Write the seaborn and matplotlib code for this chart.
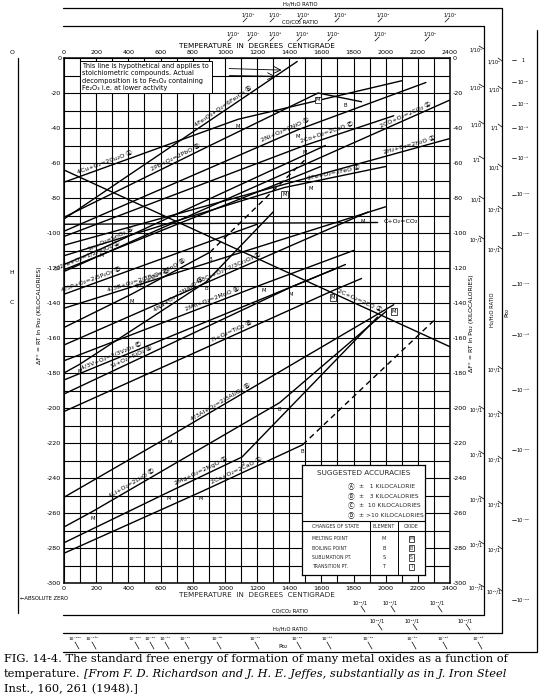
import numpy as np
import pandas as pd
import seaborn as sns
import matplotlib.pyplot as plt
from matplotlib.lines import Line2D

# standard free energy of formation, kcal per mol O2 (T in deg C)
reactions = ['4Fe₃O₄+O₂=6Fe₂O₃', '4Cu+O₂=2Cu₂O', '2Pb+O₂=2PbO', '2Ni+O₂=2NiO', '2Co+O₂=2CoO',
             '2CO+O₂=2CO₂', '2H₂+O₂=2H₂O', '2Fe+O₂=2FeO', 'C+O₂=CO₂', '2C+O₂=2CO',
             'Sn+O₂=SnO₂', '3/2Fe+O₂=1/2Fe₃O₄', '4/5P+O₂=2/5P₂O₅', '4/3B+O₂=2/3B₂O₃', '2Zn+O₂=2ZnO',
             '4Na+O₂=2Na₂O', '4/3Cr+O₂=2/3Cr₂O₃', '2Mn+O₂=2MnO', '4/3V+O₂=2/3V₂O₃', 'Si+O₂=SiO₂',
             'Ti+O₂=TiO₂', '4/3Al+O₂=2/3Al₂O₃', '4Li+O₂=2Li₂O', '2Mg+O₂=2MgO', '2Ca+O₂=2CaO']
accuracy = ['B', 'A', 'B', 'B', 'C', 'A', 'A', 'A', '', 'A', 'B', 'A', 'C', 'C', 'B',
            'B', 'C', 'B', 'C', 'B', 'B', 'B', 'C', 'A', 'A']
temps = [[0, 1450], [0, 1083, 2100], [0, 886, 1580, 1850], [0, 1455, 2250], [0, 1495, 2050],
         [0, 2400], [0, 2400], [0, 1371, 2000], [0, 1950], [0, 2400],
         [0, 232, 1625], [0, 1597], [0, 1200], [0, 450, 2000], [0, 419, 907],
         [0, 98, 883, 1300], [0, 1890], [0, 1244, 1800], [0, 1700], [0, 1410, 1750],
         [0, 1670, 1850], [0, 660, 2050], [0, 180, 1340, 2000], [0, 651, 1107, 1950], [0, 850, 1484]]
dG = [[-92, -2], [-71, -35, -13], [-91, -51, -20, -25], [-99, -41, -14], [-102, -50, -33],
      [-122, -24], [-107, -46], [-113, -74, -62], [-95, -94], [-64, -165],
      [-118, -109, -50], [-121, -62], [-135, -95], [-143, -130, -85], [-154, -135, -111],
      [-180, -175, -128, -88], [-164, -88], [-173, -129, -110], [-184, -120], [-192, -131, -118],
      [-202, -133, -126], [-251, -216, -141], [-268, -259, -197, -145], [-277, -248, -228, -148],
      [-283, -248, -221]]
label_temp = [1000, 260, 700, 1380, 1640, 2130, 2150, 1680, None, 1830,
              300, 150, 175, 470, 610, 720, 1030, 930, 300, 430,
              1050, 980, 430, 860, 1080]

# dashed parts (vapour region)
dash_line = [14, 24]
dash_t = [[907, 1500], [1484, 2300]]
dash_g = [[-111, -58], [-221, -150]]

# changes of state: line index, temperature, letter, boxed (oxide) or not
mark_line = [1, 2, 2, 3, 4, 7, 7, 10, 14, 14, 15, 15, 17, 19, 20, 21, 21, 22, 22, 23, 23, 24, 24, 16]
mark_temp = [1083, 1580, 1750, 1455, 1495, 1371, 1536, 232, 419, 907, 98, 883, 1244, 1410, 1670,
             660, 2050, 180, 1340, 651, 1107, 850, 1484, 1857]
mark_kind = ['M', 'M', 'B', 'M', 'M', 'M', 'M', 'M', 'M', 'B', 'M', 'B', 'M', 'M', 'M',
             'M', 'M', 'M', 'B', 'M', 'B', 'M', 'B', 'M']
mark_boxed = [False, True, False, False, False, True, False, False, False, False, False, False,
              False, False, True, False, True, False, False, False, False, False, False, False]

temp_ticks = list(range(0, 2401, 200))
dg_ticks = list(range(0, -301, -20))

# nomographic scales
h2_top = ['1/10⁸', '1/10⁷', '1/10⁶', '1/10⁵', '1/10⁴', '1/10³']
co_top = ['1/10⁸', '1/10⁷', '1/10⁶', '1/10⁵', '1/10⁴', '1/10³', '1/10²']
co_right = ['1/10³', '1/10²', '1/10', '1/1', '10/1', '10²/1', '10⁶/1', '10⁷/1', '10⁸/1',
            '10⁹/1', '10¹⁰/1']
h2_right = ['1/10²', '1/10', '1/1', '10/1', '10²/1', '10³/1', '10⁵/1', '10⁶/1', '10⁷/1',
            '10⁸/1', '10⁹/1', '10¹⁰/1']
po2_right = ['1', '10⁻²', '10⁻⁴', '10⁻⁶', '10⁻⁸', '10⁻¹⁰', '10⁻¹²', '10⁻¹⁴', '10⁻¹⁶',
             '10⁻¹⁸', '10⁻²⁰', '10⁻²²', '10⁻²⁴']
co_bottom = ['10¹²/1', '10¹³/1', '10¹⁴/1']
h2_bottom = ['10¹²/1', '10¹³/1', '10¹⁴/1']
po2_bottom = ['10⁻²⁰⁰', '10⁻¹⁶⁰', '10⁻¹⁰⁰', '10⁻⁹⁰', '10⁻⁸⁰', '10⁻⁷⁰', '10⁻⁶⁰', '10⁻⁵⁰',
              '10⁻⁴²', '10⁻³⁸', '10⁻³⁴', '10⁻³⁰', '10⁻²⁸', '10⁻²⁶']

circled = {'A': 'Ⓐ', 'B': 'Ⓑ', 'C': 'Ⓒ', 'D': 'Ⓓ'}
fam = ['DejaVu Sans', 'Noto Sans CJK JP']

sns.set_theme(style='white')
plt.rcParams['font.family'] = fam

W, H = 546, 700
fig = plt.figure(figsize=(W / 100, H / 100), dpi=100)
fig.patch.set_facecolor('white')


def fx(px):
    return px / W


def fy(py):
    return 1 - py / H


def fline(xs, ys, lw=0.9, ls='-'):
    fig.add_artist(Line2D([fx(x) for x in xs], [fy(y) for y in ys], color='black', lw=lw, ls=ls,
                          transform=fig.transFigure))


def ftext(px, py, s, size=3.6, **kw):
    fig.text(fx(px), fy(py), s, fontsize=size, color='black', **kw)


ax = fig.add_axes([fx(64), fy(583), (450 - 64) / W, (583 - 58) / H])
ax.set_xlim(0, 2400)
ax.set_ylim(-300, 0)
ax.set_xticks(temp_ticks)
ax.set_yticks(dg_ticks)
ax.set_xticks(range(0, 2401, 100), minor=True)
ax.set_yticks(range(0, -301, -10), minor=True)
ax.grid(which='both', color='black', lw=0.8)
ax.set_axisbelow(True)
for s in ax.spines.values():
    s.set_color('black')
    s.set_linewidth(1.1)
ax.tick_params(which='both', length=0, labelsize=4.6, colors='black', pad=2,
               top=True, labeltop=True, right=True, labelright=True)
ax.set_xticklabels([str(t) for t in temp_ticks])
ax.set_yticklabels([str(t) for t in dg_ticks])

# reaction lines
rows = []
for i, name in enumerate(reactions):
    for t, g in zip(temps[i], dG[i]):
        rows.append({'reaction': name, 'T': t, 'G': g})
df = pd.DataFrame(rows)
sns.lineplot(data=df, x='T', y='G', units='reaction', estimator=None, color='black',
             lw=1.0, sort=False, ax=ax)
for k, li in enumerate(dash_line):
    sns.lineplot(x=dash_t[k], y=dash_g[k], color='black', lw=1.0, ls=(0, (4, 3)), ax=ax)
ax.set_xlabel('TEMPERATURE  IN  DEGREES  CENTIGRADE', fontsize=5.2, labelpad=1)
ax.set_ylabel('')
ax.set_xlim(0, 2400)
ax.set_ylim(-300, 0)


def g_at(i, t):
    return np.interp(t, temps[i], dG[i])


def angle_at(i, t):
    p1 = ax.transData.transform((t - 60, g_at(i, t - 60)))
    p2 = ax.transData.transform((t + 60, g_at(i, t + 60)))
    return np.degrees(np.arctan2(p2[1] - p1[1], p2[0] - p1[0]))


for i, name in enumerate(reactions):
    t = label_temp[i]
    if t is None:
        continue
    txt = name + (' ' + circled[accuracy[i]] if accuracy[i] else '')
    ax.text(t, g_at(i, t) + 1.2, txt, fontsize=4.5, rotation=angle_at(i, t),
            rotation_mode='anchor', ha='center', va='bottom', family=fam, color='black')

ax.text(1990, -95, 'C+O₂=CO₂', fontsize=4.6, ha='left', va='bottom', color='black')

for i, t, k, b in zip(mark_line, mark_temp, mark_kind, mark_boxed):
    kw = {}
    if b:
        kw['bbox'] = dict(boxstyle='square,pad=0.15', fc='white', ec='black', lw=0.5)
    ax.text(t, g_at(i, t) - 2.5, k, fontsize=3.8, ha='center', va='top', color='black', **kw)

# note box about the hypothetical Fe2O3 line
ax.text(115, -3, 'This line is hypothetical and applies to\nstoichiometric compounds. Actual\n'
        'decomposition is to Fe₃O₄ containing\nFe₂O₃ i.e. at lower activity',
        fontsize=4.7, va='top', ha='left', linespacing=1.25, color='black',
        bbox=dict(boxstyle='square,pad=0.35', fc='white', ec='black', lw=0.7))
ax.annotate('', xy=(1370, g_at(0, 1370)), xytext=(1010, -6),
            arrowprops=dict(arrowstyle='->', lw=0.6, color='black'))
ax.annotate('', xy=(1330, g_at(0, 1330) - 1), xytext=(1010, -10),
            arrowprops=dict(arrowstyle='->', lw=0.6, color='black'))

# legend of accuracies and changes of state
lg = fig.add_axes([fx(302), fy(575), 123 / W, 110 / H])
lg.set_xlim(0, 1)
lg.set_ylim(0, 1)
lg.set_xticks([])
lg.set_yticks([])
lg.set_facecolor('white')
for s in lg.spines.values():
    s.set_color('black')
    s.set_linewidth(0.9)
lg.text(0.5, 0.93, 'SUGGESTED ACCURACIES', fontsize=5.2, ha='center', va='center')
acc_text = ['±   1 KILOCALORIE', '±   3 KILOCALORIES', '±  10 KILOCALORIES', '± >10 KILOCALORIES']
for j, (c, s) in enumerate(zip('ABCD', acc_text)):
    yy = 0.80 - j * 0.085
    lg.text(0.40, yy, circled[c], fontsize=4.8, ha='center', va='center', family=fam)
    lg.text(0.46, yy, s, fontsize=4.3, ha='left', va='center')
lg.axhline(0.49, color='black', lw=0.8)
lg.axhline(0.40, color='black', lw=0.8)
lg.plot([0.55, 0.55], [0, 0.49], color='black', lw=0.7)
lg.plot([0.78, 0.78], [0, 0.49], color='black', lw=0.7)
lg.text(0.275, 0.445, 'CHANGES OF STATE', fontsize=3.4, ha='center', va='center')
lg.text(0.665, 0.445, 'ELEMENT', fontsize=3.4, ha='center', va='center')
lg.text(0.89, 0.445, 'OXIDE', fontsize=3.4, ha='center', va='center')
state_names = ['MELTING POINT', 'BOILING POINT', 'SUBLIMATION PT.', 'TRANSITION PT.']
for j, (nm, c) in enumerate(zip(state_names, 'MBST')):
    yy = 0.33 - j * 0.085
    lg.text(0.08, yy, nm, fontsize=3.3, ha='left', va='center')
    lg.text(0.665, yy, c, fontsize=3.6, ha='center', va='center')
    lg.text(0.89, yy, c, fontsize=3.3, ha='center', va='center',
            bbox=dict(boxstyle='square,pad=0.15', fc='white', ec='black', lw=0.5))

# top axis title
ftext(257, 46, 'TEMPERATURE  IN  DEGREES  CENTIGRADE', size=5.2, ha='center', va='center')

# nomographic scale frames
fline([63, 502, 502], [8, 8, 633])
fline([63, 484, 484], [26, 26, 615])
fline([63, 484], [615, 615])
fline([63, 502], [633, 633])
fline([63, 537, 537], [652, 652, 30])
fline([18, 18], [58, 613])
ftext(300, 4, 'H₂/H₂O RATIO', size=3.8, ha='center', va='center')
ftext(300, 22, 'CO/CO₂ RATIO', size=3.8, ha='center', va='center')
ftext(290, 611, 'CO/CO₂ RATIO', size=3.8, ha='center', va='center')
ftext(290, 629, 'H₂/H₂O RATIO', size=3.8, ha='center', va='center')
ftext(283, 646, 'Po₂', size=4.2, ha='center', va='center')
ftext(492, 310, 'H₂/H₂O RATIO', size=3.8, ha='center', va='center', rotation=90)
ftext(507, 312, 'Po₂', size=4.2, ha='center', va='center', rotation=90)
ftext(472, 323, 'ΔF° = RT ln Po₂ (KILOCALORIES)', size=4.4, ha='center', va='center', rotation=90)
ftext(40, 315, 'ΔF° = RT ln Po₂ (KILOCALORIES)', size=4.4, ha='center', va='center', rotation=90)

top_h2_x = [248, 275, 303, 340, 383, 450]
for x, s in zip(top_h2_x, h2_top):
    ftext(x, 15, s, ha='center', va='center')
    fline([x - 5, x - 1], [22, 18], lw=0.5)
top_co_x = [233, 253, 275, 302, 333, 380, 430]
for x, s in zip(top_co_x, co_top):
    ftext(x, 34, s, ha='center', va='center')
    fline([x - 5, x - 1], [41, 37], lw=0.5)
right_co_y = [50, 88, 125, 160, 200, 240, 410, 455, 500, 545, 588]
for y, s in zip(right_co_y, co_right):
    ftext(476, y, s, ha='center', va='center')
    fline([479, 484], [y - 4, y - 1], lw=0.5)
right_h2_y = [62, 90, 128, 168, 210, 250, 370, 415, 460, 505, 550, 592]
for y, s in zip(right_h2_y, h2_right):
    ftext(494, y, s, ha='center', va='center')
    fline([498, 502], [y - 4, y - 1], lw=0.5)
right_po2_y = [60, 82, 105, 128, 158, 195, 235, 285, 335, 390, 450, 520, 600]
for y, s in zip(right_po2_y, po2_right):
    ftext(523, y, s, ha='center', va='center')
    fline([512, 516], [y, y], lw=0.5)
bot_co_x = [360, 390, 437]
for x, s in zip(bot_co_x, co_bottom):
    ftext(x, 603, s, ha='center', va='center')
    fline([x + 1, x + 5], [606, 612], lw=0.5)
bot_h2_x = [377, 412, 465]
for x, s in zip(bot_h2_x, h2_bottom):
    ftext(x, 621, s, ha='center', va='center')
    fline([x + 1, x + 5], [624, 630], lw=0.5)
bot_po2_x = [75, 92, 135, 150, 165, 185, 217, 255, 297, 327, 368, 412, 443, 478]
for x, s in zip(bot_po2_x, po2_bottom):
    ftext(x, 639, s, size=3.2, ha='center', va='center')
    fline([x, x + 4], [642, 649], lw=0.5)

ftext(12, 52, 'O', size=4.4, ha='center', va='center')
ftext(12, 273, 'H', size=4.4, ha='center', va='center')
ftext(12, 302, 'C', size=4.4, ha='center', va='center')
ftext(20, 599, '←ABSOLUTE ZERO', size=3.8, ha='left', va='center')

# caption
cap = 'DejaVu Serif'
ftext(4, 659, 'FIG. 14-4. The standard free energy of formation of many metal oxides as a function of',
      size=8.2, family=cap, ha='left', va='center')
ftext(4, 674, 'temperature.', size=8.2, family=cap, ha='left', va='center')
ftext(84, 674, '[From F. D. Richardson and J. H. E. Jeffes, substantially as in J. Iron Steel',
      size=8.2, family=cap, style='italic', ha='left', va='center')
ftext(4, 689, 'Inst., 160, 261 (1948).]', size=8.2, family=cap, ha='left', va='center')

fig.savefig('out.png', dpi=100, facecolor='white')
